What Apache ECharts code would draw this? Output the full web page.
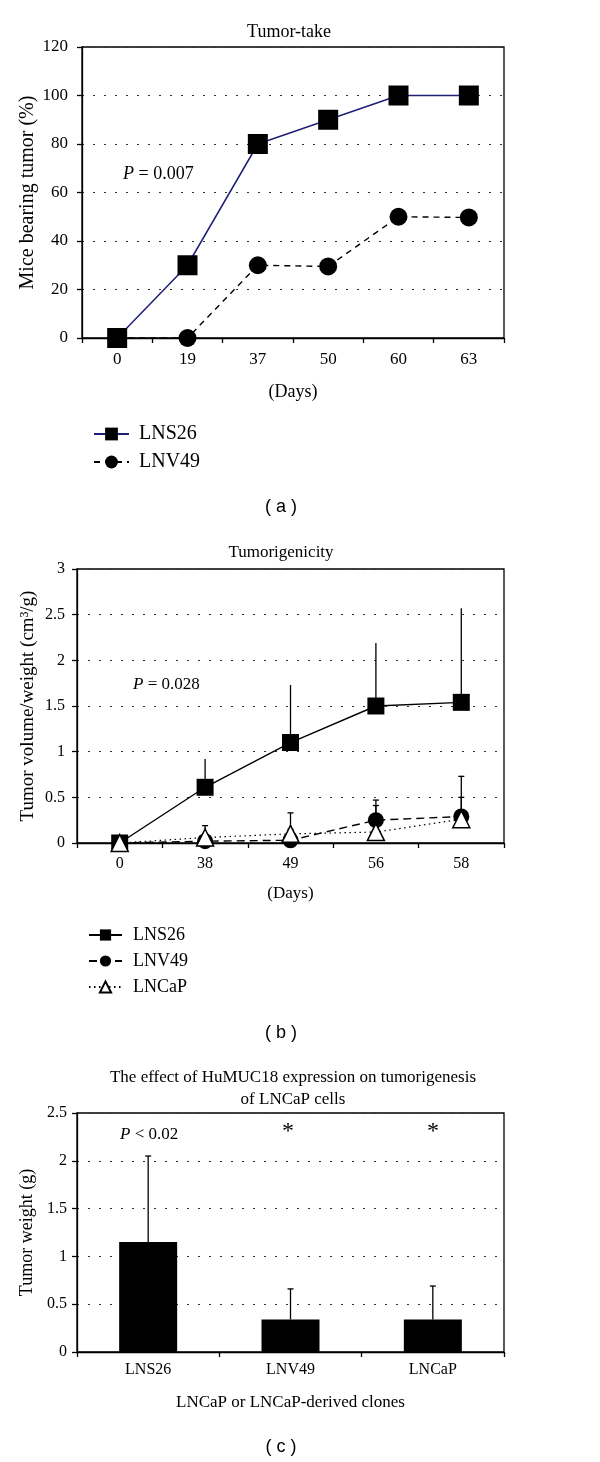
<!DOCTYPE html>
<html>
<head>
<meta charset="utf-8">
<script src="https://cdn.jsdelivr.net/npm/echarts@6/dist/echarts.min.js"></script>
<style>
  html, body { margin: 0; padding: 0; background: #fff; }
  #chart { width: 600px; height: 1462px; }
</style>
</head>
<body>
<div id="chart"></div>
<script>
// ---------- data ----------
const aDays = ['0', '19', '37', '50', '60', '63'];
const aLNS26 = [0, 30, 80, 90, 100, 100];
const aLNV49 = [0, 0, 30, 29.5, 50, 49.7];

const bDays = ['0', '38', '49', '56', '58'];
const bLNS26 = [0, 0.61, 1.1, 1.5, 1.54];
const bLNS26Upper = [0, 0.92, 1.73, 2.19, 2.57];
const bLNV49 = [0, 0.02, 0.03, 0.25, 0.29];
const bLNV49Upper = [0, 0.05, 0.33, 0.47, 0.73];
const bLNCaP = [0, 0.06, 0.1, 0.12, 0.26];
const bLNCaPUpper = [0, 0.19, 0.15, 0.41, 0.5];

const cClones = ['LNS26', 'LNV49', 'LNCaP'];
const cWeight = [1.15, 0.34, 0.34];
const cUpper = [2.05, 0.66, 0.69];

const aYRange = [0, 120, 20];
const bYRange = [0, 3, 0.5];
const cYRange = [0, 2.5, 0.5];

// ---------- helpers ----------
const SERIF = '"Liberation Serif", "Times New Roman", serif';
const SANS = '"Liberation Sans", Arial, sans-serif';

function errorSeries(idx, vals, ups, cap, z) {
  return {
    type: 'custom',
    xAxisIndex: idx, yAxisIndex: idx,
    z: z, silent: true,
    data: vals.map((v, i) => [i, v, ups[i]]),
    encode: { x: 0, y: [1, 2] },
    renderItem: function (params, api) {
      const lo = api.value(1), hi = api.value(2);
      if (!(hi > lo)) return null;
      const p0 = api.coord([api.value(0), lo]);
      const p1 = api.coord([api.value(0), hi]);
      const st = { stroke: '#000', lineWidth: 1.3 };
      const children = [{ type: 'line', shape: { x1: p0[0], y1: p0[1], x2: p1[0], y2: p1[1] }, style: st }];
      if (cap > 0) children.push({ type: 'line', shape: { x1: p1[0] - cap, y1: p1[1], x2: p1[0] + cap, y2: p1[1] }, style: st });
      return { type: 'group', children: children };
    }
  };
}

function xAxisCfg(idx, data, name, nameGap, nameSize, labelSize, margin) {
  return {
    gridIndex: idx, type: 'category', data: data, boundaryGap: true,
    name: name, nameLocation: 'middle', nameGap: nameGap, nameMoveOverlap: false,
    nameTextStyle: { fontFamily: SERIF, fontSize: nameSize, color: '#000' },
    axisLine: { show: true, lineStyle: { color: '#000', width: 1.3 } },
    axisTick: { show: true, length: 5, alignWithLabel: false, lineStyle: { color: '#000', width: 1.3 } },
    axisLabel: { interval: 0, fontFamily: SERIF, fontSize: labelSize, color: '#000', margin: margin },
    splitLine: { show: false }
  };
}

function yAxisCfg(idx, range, name, nameGap, nameSize, labelSize, margin) {
  return {
    gridIndex: idx, type: 'value', min: range[0], max: range[1], interval: range[2],
    name: name, nameLocation: 'middle', nameGap: nameGap, nameMoveOverlap: false,
    nameTextStyle: { fontFamily: SERIF, fontSize: nameSize, color: '#000' },
    axisLine: { show: true, lineStyle: { color: '#000', width: 1.3 } },
    axisTick: { show: true, length: 5, lineStyle: { color: '#000', width: 1.3 } },
    axisLabel: { fontFamily: SERIF, fontSize: labelSize, color: '#000', margin: margin },
    splitLine: { show: true, lineStyle: { type: [2, 9], color: '#333', width: 1.2 } }
  };
}

function titleCfg(text, x, y, size, family, lh) {
  return {
    text: text, left: x, top: y, padding: 0,
    textAlign: 'center', textVerticalAlign: 'middle',
    textStyle: { fontFamily: family, fontSize: size, fontWeight: 'normal', color: '#000', lineHeight: lh || size + 4 }
  };
}

function pText(x, y, size, rest) {
  return {
    type: 'text', x: x, y: y, silent: true,
    style: {
      text: '{i|P}' + rest,
      font: size + 'px ' + SERIF,
      fill: '#000', align: 'left', verticalAlign: 'middle',
      rich: { i: { font: 'italic ' + size + 'px ' + SERIF, fill: '#000' } }
    }
  };
}

const chart = echarts.init(document.getElementById('chart'), null, { renderer: 'canvas' });

const option = {
  animation: false,
  backgroundColor: '#fff',
  title: [
    titleCfg('Tumor-take', 289, 32, 18, SERIF),
    titleCfg('Tumorigenicity', 281, 553, 17, SERIF),
    titleCfg('The effect of HuMUC18 expression on tumorigenesis\nof LNCaP cells', 293, 1089, 17, SERIF, 22),
    titleCfg('( a )', 281, 507, 18, SANS),
    titleCfg('( b )', 281, 1033, 18, SANS),
    titleCfg('( c )', 281, 1447, 18, SANS)
  ],
  grid: [
    { left: 82, top: 47, width: 422, height: 291, show: true, borderColor: '#000', borderWidth: 1.3 },
    { left: 77, top: 569, width: 427, height: 274, show: true, borderColor: '#000', borderWidth: 1.3 },
    { left: 77, top: 1113, width: 427, height: 239, show: true, borderColor: '#000', borderWidth: 1.3 }
  ],
  xAxis: [
    xAxisCfg(0, aDays, '(Days)', 45, 18, 17, 13),
    xAxisCfg(1, bDays, '(Days)', 42, 17, 16, 13),
    xAxisCfg(2, cClones, 'LNCaP or LNCaP-derived clones', 42, 17, 16, 10)
  ],
  yAxis: [
    yAxisCfg(0, aYRange, 'Mice bearing tumor (%)', 44, 20, 17, 14),
    yAxisCfg(1, bYRange, 'Tumor volume/weight (cm³/g)', 39, 19, 16, 12),
    yAxisCfg(2, cYRange, 'Tumor weight (g)', 41, 18, 16, 10)
  ],
  legend: [
    {
      data: ['a:LNS26', 'a:LNV49'], orient: 'vertical', left: 93, top: 424, padding: 0,
      itemWidth: 35, itemHeight: 16, itemGap: 8, selectedMode: false,
      formatter: n => n.slice(2),
      textStyle: { fontFamily: SERIF, fontSize: 20, color: '#000', padding: [0, 0, 0, 5] }
    },
    {
      data: ['b:LNS26', 'b:LNV49', 'b:LNCaP'], orient: 'vertical', left: 88, top: 926, padding: 0,
      itemWidth: 33, itemHeight: 14, itemGap: 8, selectedMode: false,
      formatter: n => n.slice(2),
      textStyle: { fontFamily: SERIF, fontSize: 18, color: '#000', padding: [0, 0, 0, 6] }
    }
  ],
  series: [
    // panel (a)
    {
      name: 'a:LNS26', type: 'line', xAxisIndex: 0, yAxisIndex: 0, data: aLNS26,
      symbol: 'rect', symbolSize: 20, z: 3,
      lineStyle: { color: '#1f1f78', width: 1.5 }, itemStyle: { color: '#000' }
    },
    {
      name: 'a:LNV49', type: 'line', xAxisIndex: 0, yAxisIndex: 0, data: aLNV49,
      symbol: 'circle', symbolSize: 18, z: 3,
      lineStyle: { color: '#000', width: 1.4, type: [6, 5] }, itemStyle: { color: '#000' }
    },
    // panel (b)
    errorSeries(1, bLNS26, bLNS26Upper, 0, 1),
    errorSeries(1, bLNV49, bLNV49Upper, 3, 1),
    errorSeries(1, bLNCaP, bLNCaPUpper, 3, 1),
    {
      name: 'b:LNS26', type: 'line', xAxisIndex: 1, yAxisIndex: 1, data: bLNS26,
      symbol: 'rect', symbolSize: 17, z: 3,
      lineStyle: { color: '#000', width: 1.4 }, itemStyle: { color: '#000' }
    },
    {
      name: 'b:LNV49', type: 'line', xAxisIndex: 1, yAxisIndex: 1, data: bLNV49,
      symbol: 'circle', symbolSize: 16, z: 3,
      lineStyle: { color: '#000', width: 1.4, type: [8, 5] }, itemStyle: { color: '#000' }
    },
    {
      name: 'b:LNCaP', type: 'line', xAxisIndex: 1, yAxisIndex: 1, data: bLNCaP,
      symbol: 'triangle', symbolSize: 17, z: 4,
      lineStyle: { color: '#000', width: 1.2, type: [1.5, 3.5] },
      itemStyle: { color: '#fff', borderColor: '#000', borderWidth: 1.5 }
    },
    // panel (c)
    {
      name: 'c:weight', type: 'bar', xAxisIndex: 2, yAxisIndex: 2, data: cWeight,
      barWidth: 58, itemStyle: { color: '#000' }, z: 2
    },
    errorSeries(2, cWeight, cUpper, 3, 3)
  ],
  graphic: [
    pText(123, 174, 18, ' = 0.007'),
    pText(133, 685, 17, ' = 0.028'),
    pText(120, 1135, 17, ' < 0.02'),
    { type: 'text', x: 288, y: 1132, silent: true,
      style: { text: '*', font: '24px ' + SERIF, fill: '#000', align: 'center', verticalAlign: 'middle' } },
    { type: 'text', x: 433, y: 1132, silent: true,
      style: { text: '*', font: '24px ' + SERIF, fill: '#000', align: 'center', verticalAlign: 'middle' } }
  ]
};

chart.setOption(option);
</script>
</body>
</html>
